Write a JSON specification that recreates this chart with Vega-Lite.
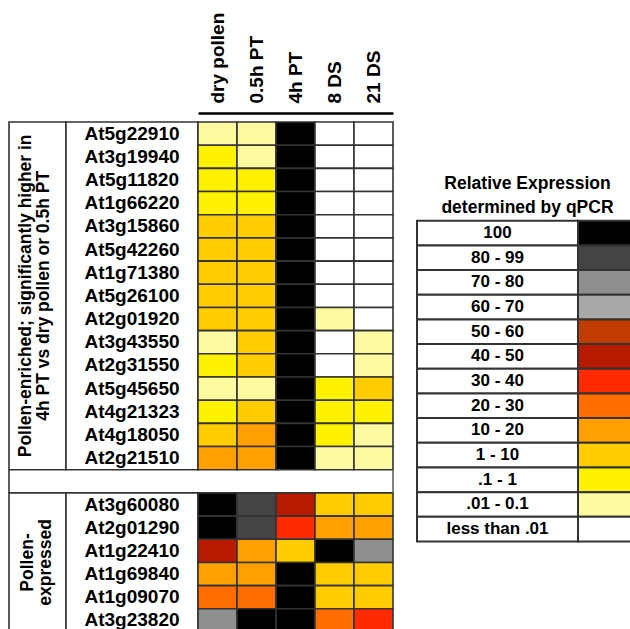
{
  "$schema": "https://vega.github.io/schema/vega-lite/v6.json",
  "padding": {"left": 8, "top": 12, "right": 0, "bottom": 0},
  "background": "white",
  "config": {"view": {"stroke": null}, "font": "Liberation Sans"},
  "datasets": {
    "cells": [
      {"gene":"At5g22910","condition":"dry pollen","level":".01 - 0.1"},{"gene":"At5g22910","condition":"0.5h PT","level":".01 - 0.1"},{"gene":"At5g22910","condition":"4h PT","level":"100"},{"gene":"At5g22910","condition":"8 DS","level":"less than .01"},{"gene":"At5g22910","condition":"21 DS","level":"less than .01"},
      {"gene":"At3g19940","condition":"dry pollen","level":".1 - 1"},{"gene":"At3g19940","condition":"0.5h PT","level":".01 - 0.1"},{"gene":"At3g19940","condition":"4h PT","level":"100"},{"gene":"At3g19940","condition":"8 DS","level":"less than .01"},{"gene":"At3g19940","condition":"21 DS","level":"less than .01"},
      {"gene":"At5g11820","condition":"dry pollen","level":".1 - 1"},{"gene":"At5g11820","condition":"0.5h PT","level":".1 - 1"},{"gene":"At5g11820","condition":"4h PT","level":"100"},{"gene":"At5g11820","condition":"8 DS","level":"less than .01"},{"gene":"At5g11820","condition":"21 DS","level":"less than .01"},
      {"gene":"At1g66220","condition":"dry pollen","level":".1 - 1"},{"gene":"At1g66220","condition":"0.5h PT","level":".1 - 1"},{"gene":"At1g66220","condition":"4h PT","level":"100"},{"gene":"At1g66220","condition":"8 DS","level":"less than .01"},{"gene":"At1g66220","condition":"21 DS","level":"less than .01"},
      {"gene":"At3g15860","condition":"dry pollen","level":"1 - 10"},{"gene":"At3g15860","condition":"0.5h PT","level":"1 - 10"},{"gene":"At3g15860","condition":"4h PT","level":"100"},{"gene":"At3g15860","condition":"8 DS","level":"less than .01"},{"gene":"At3g15860","condition":"21 DS","level":"less than .01"},
      {"gene":"At5g42260","condition":"dry pollen","level":"1 - 10"},{"gene":"At5g42260","condition":"0.5h PT","level":"1 - 10"},{"gene":"At5g42260","condition":"4h PT","level":"100"},{"gene":"At5g42260","condition":"8 DS","level":"less than .01"},{"gene":"At5g42260","condition":"21 DS","level":"less than .01"},
      {"gene":"At1g71380","condition":"dry pollen","level":"1 - 10"},{"gene":"At1g71380","condition":"0.5h PT","level":"1 - 10"},{"gene":"At1g71380","condition":"4h PT","level":"100"},{"gene":"At1g71380","condition":"8 DS","level":"less than .01"},{"gene":"At1g71380","condition":"21 DS","level":"less than .01"},
      {"gene":"At5g26100","condition":"dry pollen","level":"1 - 10"},{"gene":"At5g26100","condition":"0.5h PT","level":"1 - 10"},{"gene":"At5g26100","condition":"4h PT","level":"100"},{"gene":"At5g26100","condition":"8 DS","level":"less than .01"},{"gene":"At5g26100","condition":"21 DS","level":"less than .01"},
      {"gene":"At2g01920","condition":"dry pollen","level":"1 - 10"},{"gene":"At2g01920","condition":"0.5h PT","level":"1 - 10"},{"gene":"At2g01920","condition":"4h PT","level":"100"},{"gene":"At2g01920","condition":"8 DS","level":".01 - 0.1"},{"gene":"At2g01920","condition":"21 DS","level":"less than .01"},
      {"gene":"At3g43550","condition":"dry pollen","level":".01 - 0.1"},{"gene":"At3g43550","condition":"0.5h PT","level":"1 - 10"},{"gene":"At3g43550","condition":"4h PT","level":"100"},{"gene":"At3g43550","condition":"8 DS","level":"less than .01"},{"gene":"At3g43550","condition":"21 DS","level":".01 - 0.1"},
      {"gene":"At2g31550","condition":"dry pollen","level":".1 - 1"},{"gene":"At2g31550","condition":"0.5h PT","level":"1 - 10"},{"gene":"At2g31550","condition":"4h PT","level":"100"},{"gene":"At2g31550","condition":"8 DS","level":"less than .01"},{"gene":"At2g31550","condition":"21 DS","level":".01 - 0.1"},
      {"gene":"At5g45650","condition":"dry pollen","level":".01 - 0.1"},{"gene":"At5g45650","condition":"0.5h PT","level":".01 - 0.1"},{"gene":"At5g45650","condition":"4h PT","level":"100"},{"gene":"At5g45650","condition":"8 DS","level":".1 - 1"},{"gene":"At5g45650","condition":"21 DS","level":"1 - 10"},
      {"gene":"At4g21323","condition":"dry pollen","level":".1 - 1"},{"gene":"At4g21323","condition":"0.5h PT","level":"1 - 10"},{"gene":"At4g21323","condition":"4h PT","level":"100"},{"gene":"At4g21323","condition":"8 DS","level":".1 - 1"},{"gene":"At4g21323","condition":"21 DS","level":".1 - 1"},
      {"gene":"At4g18050","condition":"dry pollen","level":"1 - 10"},{"gene":"At4g18050","condition":"0.5h PT","level":"10 - 20"},{"gene":"At4g18050","condition":"4h PT","level":"100"},{"gene":"At4g18050","condition":"8 DS","level":".1 - 1"},{"gene":"At4g18050","condition":"21 DS","level":".01 - 0.1"},
      {"gene":"At2g21510","condition":"dry pollen","level":"10 - 20"},{"gene":"At2g21510","condition":"0.5h PT","level":"10 - 20"},{"gene":"At2g21510","condition":"4h PT","level":"100"},{"gene":"At2g21510","condition":"8 DS","level":".01 - 0.1"},{"gene":"At2g21510","condition":"21 DS","level":".01 - 0.1"},
      {"gene":"At3g60080","condition":"dry pollen","level":"100"},{"gene":"At3g60080","condition":"0.5h PT","level":"80 - 99"},{"gene":"At3g60080","condition":"4h PT","level":"40 - 50"},{"gene":"At3g60080","condition":"8 DS","level":"1 - 10"},{"gene":"At3g60080","condition":"21 DS","level":"1 - 10"},
      {"gene":"At2g01290","condition":"dry pollen","level":"100"},{"gene":"At2g01290","condition":"0.5h PT","level":"80 - 99"},{"gene":"At2g01290","condition":"4h PT","level":"30 - 40"},{"gene":"At2g01290","condition":"8 DS","level":"10 - 20"},{"gene":"At2g01290","condition":"21 DS","level":"10 - 20"},
      {"gene":"At1g22410","condition":"dry pollen","level":"40 - 50"},{"gene":"At1g22410","condition":"0.5h PT","level":"10 - 20"},{"gene":"At1g22410","condition":"4h PT","level":"1 - 10"},{"gene":"At1g22410","condition":"8 DS","level":"100"},{"gene":"At1g22410","condition":"21 DS","level":"70 - 80"},
      {"gene":"At1g69840","condition":"dry pollen","level":"10 - 20"},{"gene":"At1g69840","condition":"0.5h PT","level":"10 - 20"},{"gene":"At1g69840","condition":"4h PT","level":"100"},{"gene":"At1g69840","condition":"8 DS","level":"1 - 10"},{"gene":"At1g69840","condition":"21 DS","level":"1 - 10"},
      {"gene":"At1g09070","condition":"dry pollen","level":"20 - 30"},{"gene":"At1g09070","condition":"0.5h PT","level":"20 - 30"},{"gene":"At1g09070","condition":"4h PT","level":"100"},{"gene":"At1g09070","condition":"8 DS","level":"1 - 10"},{"gene":"At1g09070","condition":"21 DS","level":"1 - 10"},
      {"gene":"At3g23820","condition":"dry pollen","level":"70 - 80"},{"gene":"At3g23820","condition":"0.5h PT","level":"100"},{"gene":"At3g23820","condition":"4h PT","level":"100"},{"gene":"At3g23820","condition":"8 DS","level":"20 - 30"},{"gene":"At3g23820","condition":"21 DS","level":"30 - 40"}
    ],
    "genes": [
      {"gene":"At5g22910"},{"gene":"At3g19940"},{"gene":"At5g11820"},{"gene":"At1g66220"},{"gene":"At3g15860"},{"gene":"At5g42260"},{"gene":"At1g71380"},{"gene":"At5g26100"},{"gene":"At2g01920"},{"gene":"At3g43550"},{"gene":"At2g31550"},{"gene":"At5g45650"},{"gene":"At4g21323"},{"gene":"At4g18050"},{"gene":"At2g21510"},
      {"gene":"At3g60080"},{"gene":"At2g01290"},{"gene":"At1g22410"},{"gene":"At1g69840"},{"gene":"At1g09070"},{"gene":"At3g23820"}
    ],
    "groups": [
      {"group":"enriched","first":"At5g22910","last":"At2g21510","anchor":"At5g26100","label":["Pollen-enriched; significantly higher in","4h PT vs dry pollen or 0.5h PT"]},
      {"group":"expressed","first":"At3g60080","last":"At3g23820","anchor":"At1g69840","label":["Pollen-","expressed"]}
    ],
    "gap": [{"row":"gap"}],
    "legend": [
      {"level":"100"},{"level":"80 - 99"},{"level":"70 - 80"},{"level":"60 - 70"},{"level":"50 - 60"},{"level":"40 - 50"},{"level":"30 - 40"},{"level":"20 - 30"},{"level":"10 - 20"},{"level":"1 - 10"},{"level":".1 - 1"},{"level":".01 - 0.1"},{"level":"less than .01"}
    ],
    "legendTitle": [{"level":"t1","text":"Relative Expression"},{"level":"t2","text":"determined by qPCR"}]
  },
  "bounds": "flush",
  "spacing": 0,
  "hconcat": [
    {
      "width": 57,
      "height": 510,
      "layer": [
        {
          "data": {"name": "groups"},
          "mark": {"type": "rect", "fill": "white", "stroke": "#333333", "strokeWidth": 1.6},
          "encoding": {
            "y": {"field": "first", "type": "ordinal", "bandPosition": 0, "axis": null,
                  "scale": {"domain": ["At5g22910","At3g19940","At5g11820","At1g66220","At3g15860","At5g42260","At1g71380","At5g26100","At2g01920","At3g43550","At2g31550","At5g45650","At4g21323","At4g18050","At2g21510","gap","At3g60080","At2g01290","At1g22410","At1g69840","At1g09070","At3g23820"], "paddingInner": 0, "paddingOuter": 0}},
            "y2": {"field": "last", "bandPosition": 1}
          }
        },
        {
          "data": {"name": "gap"},
          "mark": {"type": "rule", "stroke": "#333333", "strokeWidth": 1.6},
          "encoding": {
            "x": {"datum": 0, "type": "quantitative", "scale": {"domain": [0, 1]}, "axis": null},
            "y": {"field": "row", "type": "ordinal", "bandPosition": 0},
            "y2": {"field": "row", "bandPosition": 1}
          }
        },
        {
          "data": {"name": "groups"},
          "transform": [{"filter": "datum.group === 'enriched'"}],
          "mark": {"type": "text", "angle": 270, "fontSize": 17.5, "lineHeight": 18, "fontWeight": "bold", "align": "center", "baseline": "middle", "color": "black", "dy": -12},
          "encoding": {
            "y": {"field": "anchor", "type": "ordinal", "bandPosition": 0.5},
            "text": {"field": "label"}
          }
        },
        {
          "data": {"name": "groups"},
          "transform": [{"filter": "datum.group === 'expressed'"}],
          "mark": {"type": "text", "angle": 270, "fontSize": 17.5, "lineHeight": 18.5, "fontWeight": "bold", "align": "center", "baseline": "middle", "color": "black", "dy": -10},
          "encoding": {
            "y": {"field": "anchor", "type": "ordinal", "bandPosition": 0},
            "text": {"field": "label"}
          }
        }
      ]
    },
    {
      "width": 132,
      "height": 510,
      "layer": [
        {
          "data": {"name": "groups"},
          "mark": {"type": "rect", "fill": "white", "stroke": "#333333", "strokeWidth": 1.6},
          "encoding": {
            "y": {"field": "first", "type": "ordinal", "bandPosition": 0, "axis": null,
                  "scale": {"domain": ["At5g22910","At3g19940","At5g11820","At1g66220","At3g15860","At5g42260","At1g71380","At5g26100","At2g01920","At3g43550","At2g31550","At5g45650","At4g21323","At4g18050","At2g21510","gap","At3g60080","At2g01290","At1g22410","At1g69840","At1g09070","At3g23820"], "paddingInner": 0, "paddingOuter": 0}},
            "y2": {"field": "last", "bandPosition": 1}
          }
        },
        {
          "data": {"name": "genes"},
          "mark": {"type": "text", "fontSize": 19, "fontWeight": "bold", "align": "center", "baseline": "middle", "color": "black"},
          "encoding": {
            "y": {"field": "gene", "type": "ordinal"},
            "text": {"field": "gene"}
          }
        }
      ]
    },
    {
      "width": 195,
      "height": 510,
      "layer": [
        {
          "data": {"name": "cells"},
          "mark": {"type": "rect", "stroke": "#333333", "strokeWidth": 1.6},
          "encoding": {
            "x": {"field": "condition", "type": "ordinal",
                  "scale": {"domain": ["dry pollen","0.5h PT","4h PT","8 DS","21 DS"], "paddingInner": 0, "paddingOuter": 0},
                  "axis": {"orient": "top", "title": null, "labelAngle": -90, "labelFontSize": 19, "labelFontWeight": "bold", "labelColor": "black", "labelFont": "Liberation Sans", "ticks": false, "tickSize": 0, "domain": true, "domainColor": "black", "domainWidth": 2.5, "offset": 9, "labelPadding": 10}},
            "y": {"field": "gene", "type": "ordinal", "axis": null,
                  "scale": {"domain": ["At5g22910","At3g19940","At5g11820","At1g66220","At3g15860","At5g42260","At1g71380","At5g26100","At2g01920","At3g43550","At2g31550","At5g45650","At4g21323","At4g18050","At2g21510","gap","At3g60080","At2g01290","At1g22410","At1g69840","At1g09070","At3g23820"], "paddingInner": 0, "paddingOuter": 0}},
            "fill": {"field": "level", "type": "nominal", "legend": null,
                     "scale": {"domain": ["100","80 - 99","70 - 80","60 - 70","50 - 60","40 - 50","30 - 40","20 - 30","10 - 20","1 - 10",".1 - 1",".01 - 0.1","less than .01"],
                               "range": ["#000000","#444444","#8f8f8f","#a9a9a9","#c23b00","#b81a00","#ff2a00","#ff6d00","#ffa000","#ffcc00","#fff200","#fffaa0","#ffffff"]}}
          }
        },
        {
          "data": {"name": "gap"},
          "mark": {"type": "rule", "stroke": "#666666", "strokeWidth": 1.6},
          "encoding": {
            "x": {"datum": "21 DS", "type": "ordinal", "bandPosition": 1},
            "y": {"field": "row", "type": "ordinal", "bandPosition": 0},
            "y2": {"field": "row", "bandPosition": 1}
          }
        }
      ]
    },
    {
      "width": 185,
      "height": 419.5,
      "layer": [
        {
          "data": {"name": "legend"},
          "mark": {"type": "rect", "fill": "white", "stroke": "#333333", "strokeWidth": 2},
          "encoding": {
            "x": {"datum": "label", "type": "ordinal", "axis": null, "scale": {"domain": ["label"], "paddingInner": 0, "paddingOuter": 0.0745, "align": 1}},
            "y": {"field": "level", "type": "ordinal", "axis": null,
                  "scale": {"domain": ["t1","t2","100","80 - 99","70 - 80","60 - 70","50 - 60","40 - 50","30 - 40","20 - 30","10 - 20","1 - 10",".1 - 1",".01 - 0.1","less than .01"], "paddingInner": 0, "paddingOuter": 1.58, "align": 1}}
          }
        },
        {
          "data": {"name": "legend"},
          "mark": {"type": "text", "fontSize": 17, "fontWeight": "bold", "align": "center", "baseline": "middle", "color": "black"},
          "encoding": {
            "x": {"datum": "label", "type": "ordinal"},
            "y": {"field": "level", "type": "ordinal"},
            "text": {"field": "level"}
          }
        },
        {
          "data": {"name": "legendTitle"},
          "mark": {"type": "text", "fontSize": 17.5, "fontWeight": "bold", "align": "center", "baseline": "middle", "color": "black", "dx": 30},
          "encoding": {
            "x": {"datum": "label", "type": "ordinal"},
            "y": {"field": "level", "type": "ordinal"},
            "text": {"field": "text"}
          }
        }
      ]
    },
    {
      "width": 64,
      "height": 419.5,
      "layer": [
        {
          "data": {"name": "legend"},
          "mark": {"type": "rect", "stroke": "#333333", "strokeWidth": 2},
          "encoding": {
            "y": {"field": "level", "type": "ordinal", "axis": null,
                  "scale": {"domain": ["t1","t2","100","80 - 99","70 - 80","60 - 70","50 - 60","40 - 50","30 - 40","20 - 30","10 - 20","1 - 10",".1 - 1",".01 - 0.1","less than .01"], "paddingInner": 0, "paddingOuter": 1.58, "align": 1}},
            "fill": {"field": "level", "type": "nominal", "legend": null,
                     "scale": {"domain": ["100","80 - 99","70 - 80","60 - 70","50 - 60","40 - 50","30 - 40","20 - 30","10 - 20","1 - 10",".1 - 1",".01 - 0.1","less than .01"],
                               "range": ["#000000","#444444","#8f8f8f","#a9a9a9","#c23b00","#b81a00","#ff2a00","#ff6d00","#ffa000","#ffcc00","#fff200","#fffaa0","#ffffff"]}}
          }
        }
      ]
    }
  ]
}
